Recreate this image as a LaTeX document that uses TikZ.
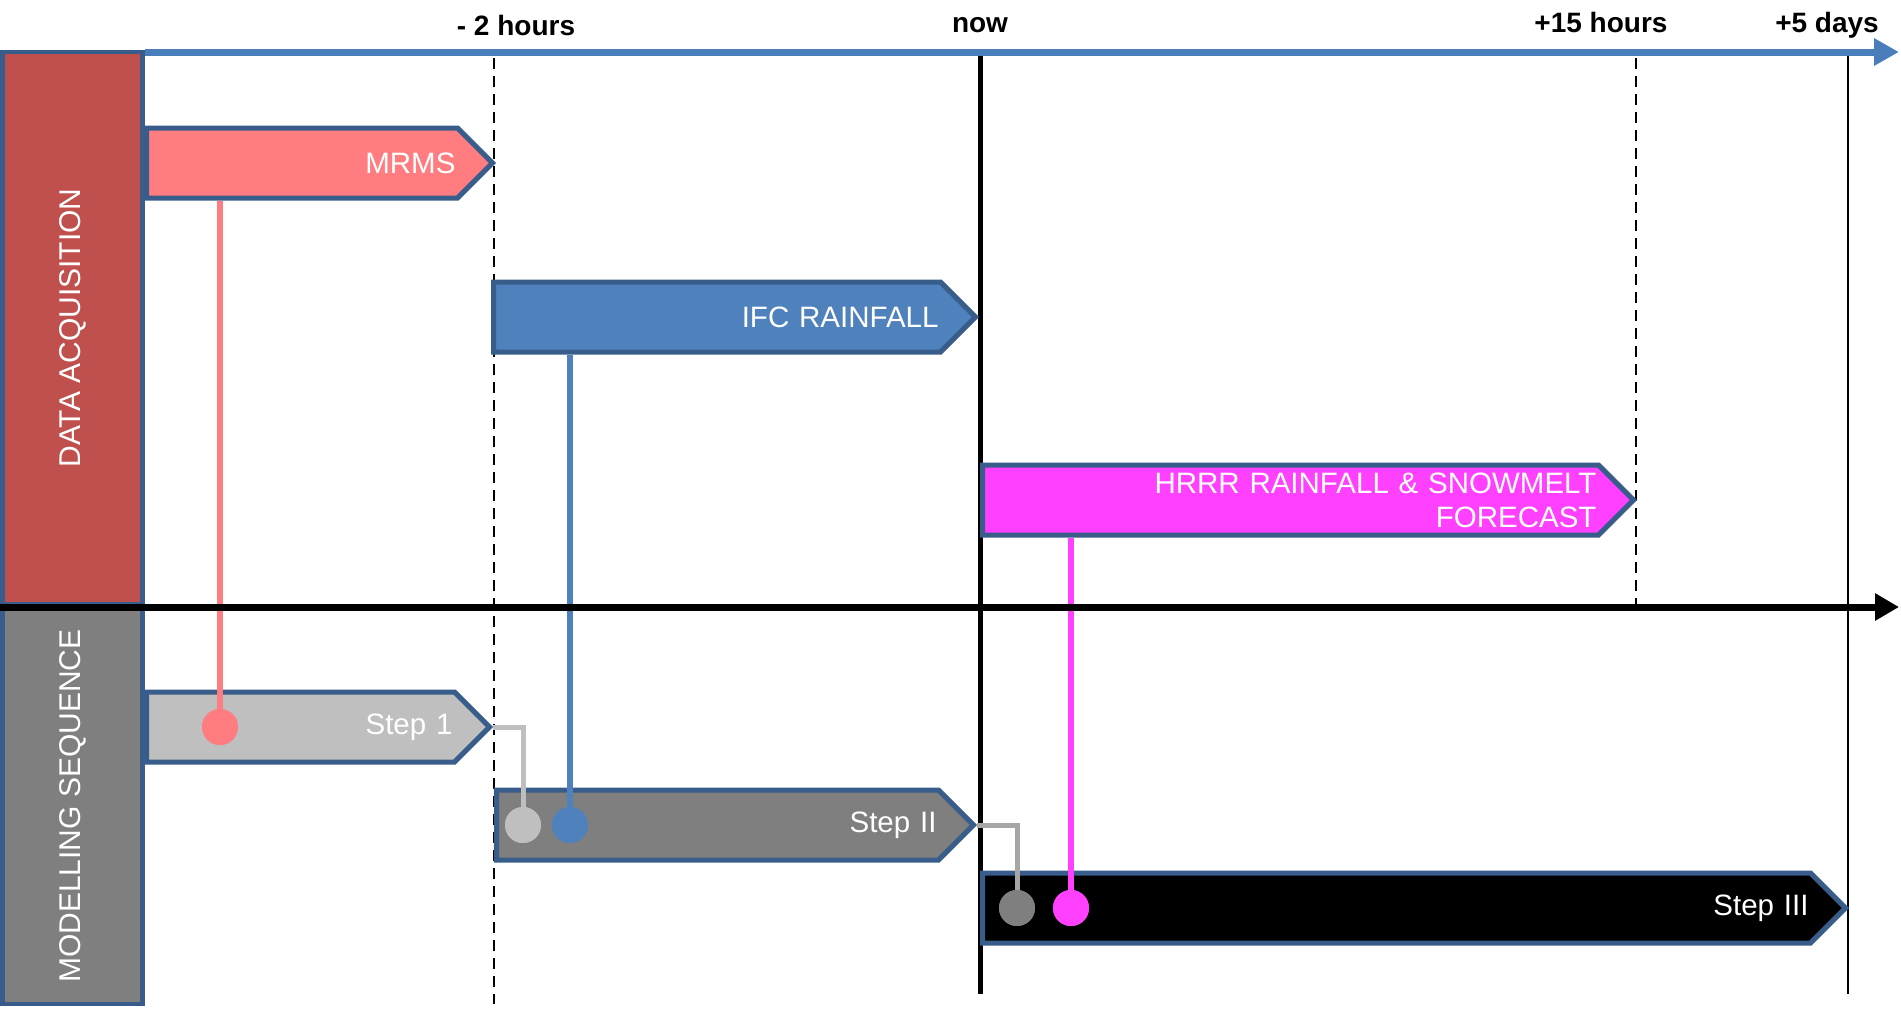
\documentclass[tikz,border=0pt]{standalone}
\usepackage{fontspec}
\setmainfont{Liberation Sans}
\usetikzlibrary{shapes.symbols, arrows.meta}

\definecolor{edgeblue}{HTML}{385D8A}
\definecolor{axisblue}{HTML}{4A7EBB}
\definecolor{acqred}{HTML}{C0504D}
\definecolor{seqgray}{HTML}{7F7F7F}
\definecolor{mrmsred}{HTML}{FF7C80}
\definecolor{ifcblue}{HTML}{4F81BD}
\definecolor{hrrrpink}{HTML}{FF40FF}
\definecolor{lightgray}{HTML}{BFBFBF}
\definecolor{midgray}{HTML}{A6A6A6}

\begin{document}
\begin{tikzpicture}[x=1pt, y=-1pt,
    feed/.style={shape=signal, signal to=east, signal pointer angle=90, draw=edgeblue, line width=5pt,
      minimum height=70pt, inner xsep=2pt, inner ysep=0pt, text=white, align=right, anchor=west,
      font=\fontsize{29.5}{34}\selectfont},
    panel/.style={draw=edgeblue, line width=4.5pt, rotate=90, minimum height=140pt, inner sep=0pt,
      text=white, font=\fontsize{30}{34}\selectfont},
    knob/.style={circle, minimum size=36pt, inner sep=0pt},
    link/.style={line width=6pt},
    hop/.style={line width=5pt},
    when/.style={anchor=base, font=\bfseries\fontsize{28}{32}\selectfont},
    guide/.style={line width=2pt, dash pattern=on 11pt off 7pt},
    ]
    \useasboundingbox (0,0) rectangle (1901,1009);

    \draw[guide] (494,58) -- (494,1004);
    \draw[guide] (1636,58) -- (1636,606);
    \draw[line width=5pt] (980,55) -- (980,994);
    \draw[line width=2pt] (1848,55) -- (1848,994);

    \node[panel, fill=acqred, minimum width=552pt] (acq) at (72.5,328) {DATA ACQUISITION};
    \node[panel, fill=seqgray, minimum width=396pt] (seq) at (72.5,806) {MODELLING SEQUENCE};

    \node[feed, fill=mrmsred, text width=307pt] (mrms) at (144,163) {MRMS};
    \node[feed, fill=ifcblue, text width=443pt] (ifc) at (491,317) {IFC RAINFALL};
    \node[feed, fill=hrrrpink, text width=612pt] (hrrr) at (980,500) {HRRR RAINFALL \& SNOWMELT\\FORECAST};
    \node[feed, fill=lightgray, text width=304pt] (step1) at (144,727) {Step 1};
    \node[feed, fill=seqgray, text width=438pt] (step2) at (494,825) {Step II};
    \node[feed, fill=black, text width=824pt] (step3) at (980,908) {Step III};

    \node[knob, fill=mrmsred] (k1) at (220,727) {};
    \node[knob, fill=lightgray] (k2) at (523,825) {};
    \node[knob, fill=ifcblue] (k3) at (570,825) {};
    \node[knob, fill=seqgray] (k4) at (1017,908) {};
    \node[knob, fill=hrrrpink] (k5) at (1071,908) {};

    \draw[link, mrmsred] (mrms.south -| k1) -- (k1.center);
    \draw[link, ifcblue] (ifc.south -| k3) -- (k3.center);
    \draw[link, hrrrpink] (hrrr.south -| k5) -- (k5.center);
    \draw[hop, lightgray] (step1.east) -| (k2.center);
    \draw[hop, midgray] (step2.east) -| (k4.center);
    \node[knob, fill=mrmsred] at (k1) {};
    \node[knob, fill=lightgray] at (k2) {};
    \node[knob, fill=ifcblue] at (k3) {};
    \node[knob, fill=seqgray] at (k4) {};
    \node[knob, fill=hrrrpink] at (k5) {};

    \draw[line width=7pt, axisblue, -{Triangle[length=25pt,width=26pt]}] (145,52) -- (1899,52);
    \draw[line width=7pt, -{Triangle[length=24pt,width=26pt]}] (0,607) -- (1899,607);

    \node[when] (ago) at (516,35) {- 2 hours};
    \node[when] (now) at (980,32.5) {now};
    \node[when] (h15) at (1601,32.5) {+15 hours};
    \node[when] (d5) at (1827,32.5) {+5 days};
\end{tikzpicture}
\end{document}
